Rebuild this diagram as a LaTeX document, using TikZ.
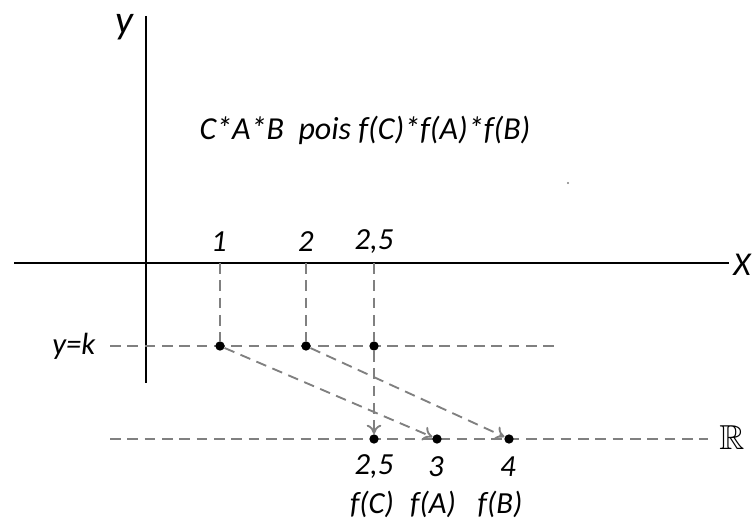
\documentclass[tikz,border=0pt]{standalone}
\usepackage{amssymb}
\usepackage{fontspec}
\setmainfont{Carlito}
\usetikzlibrary{arrows.meta}

\tikzset{
  axis/.style={line width=2.2pt, black},
  guide/.style={black!50, line width=1.4pt, dash pattern=on 8pt off 5pt},
  map/.style={guide, -{To[length=7pt, width=11pt]}},
  dot/.style={circle, fill=black, inner sep=0pt, minimum size=7pt},
  lbl/.style={font=\fontsize{23}{27}\selectfont\itshape, inner sep=1pt},
}

\begin{document}
\begin{tikzpicture}[x=0.75pt, y=-0.75pt]
    \useasboundingbox (0,0) rectangle (752,523);
    % axes
    \coordinate (xl) at (14,263);
    \coordinate (xr) at (729,263);
    \coordinate (yt) at (146,16);
    \coordinate (yb) at (146,383);
    \draw[axis] (xl) -- (xr);
    \draw[axis] (yt) -- (yb);
    \node[lbl, font=\fontsize{30}{34}\selectfont\itshape] (ylab) at (124,27) {y};
    \node[lbl, font=\fontsize{25}{29}\selectfont\itshape] (xlab) at (742,265) {X};
    \node[lbl, font=\fontsize{24}{28}\selectfont\itshape] (title) at (365,130) {C*A*B\ \ pois f(C)*f(A)*f(B)};
    \fill[gray] (568,183) circle (1.2);
    % values on the x axis
    \coordinate (t1) at (220,263);
    \coordinate (t2) at (306,263);
    \coordinate (t3) at (374,263);
    \node[lbl] (n1) at (219,242) {1};
    \node[lbl] (n2) at (306,242) {2};
    \node[lbl] (n3) at (374,242) {2,5};
    % the line y=k
    \coordinate (kl) at (110,346);
    \coordinate (kr) at (555,346);
    \draw[guide] (kl) -- (kr);
    \node[lbl, anchor=east] (klab) at (97,346) {y=k};
    \node[dot] (kA) at (220,346) {};
    \node[dot] (kB) at (306,346) {};
    \node[dot] (kC) at (374,346) {};
    % the real line
    \coordinate (rl) at (110,439);
    \coordinate (rr) at (708,439);
    \draw[guide] (rl) -- (rr);
    \node (rlab) at (732,438) {\fontsize{26}{30}\selectfont$\mathbb{R}$};
    \node[dot] (fC) at (374,439) {};
    \node[dot] (fA) at (437,439) {};
    \node[dot] (fB) at (509,439) {};
    \node[lbl] (v3) at (374,467) {2,5};
    \node[lbl] (v1) at (436,467) {3};
    \node[lbl] (v2) at (508,467) {4};
    \node[lbl] (lC) at (372,504) {f(C)};
    \node[lbl] (lA) at (433,504) {f(A)};
    \node[lbl] (lB) at (500,504) {f(B)};
    % projections and the map f
    \draw[guide] (t1) -- (kA);
    \draw[guide] (t2) -- (kB);
    \draw[guide] (t3) -- (kC);
    \draw[map] (kA) -- (fA);
    \draw[map] (kB) -- (fB);
    \draw[map] (kC) -- (fC);
\end{tikzpicture}
\end{document}
